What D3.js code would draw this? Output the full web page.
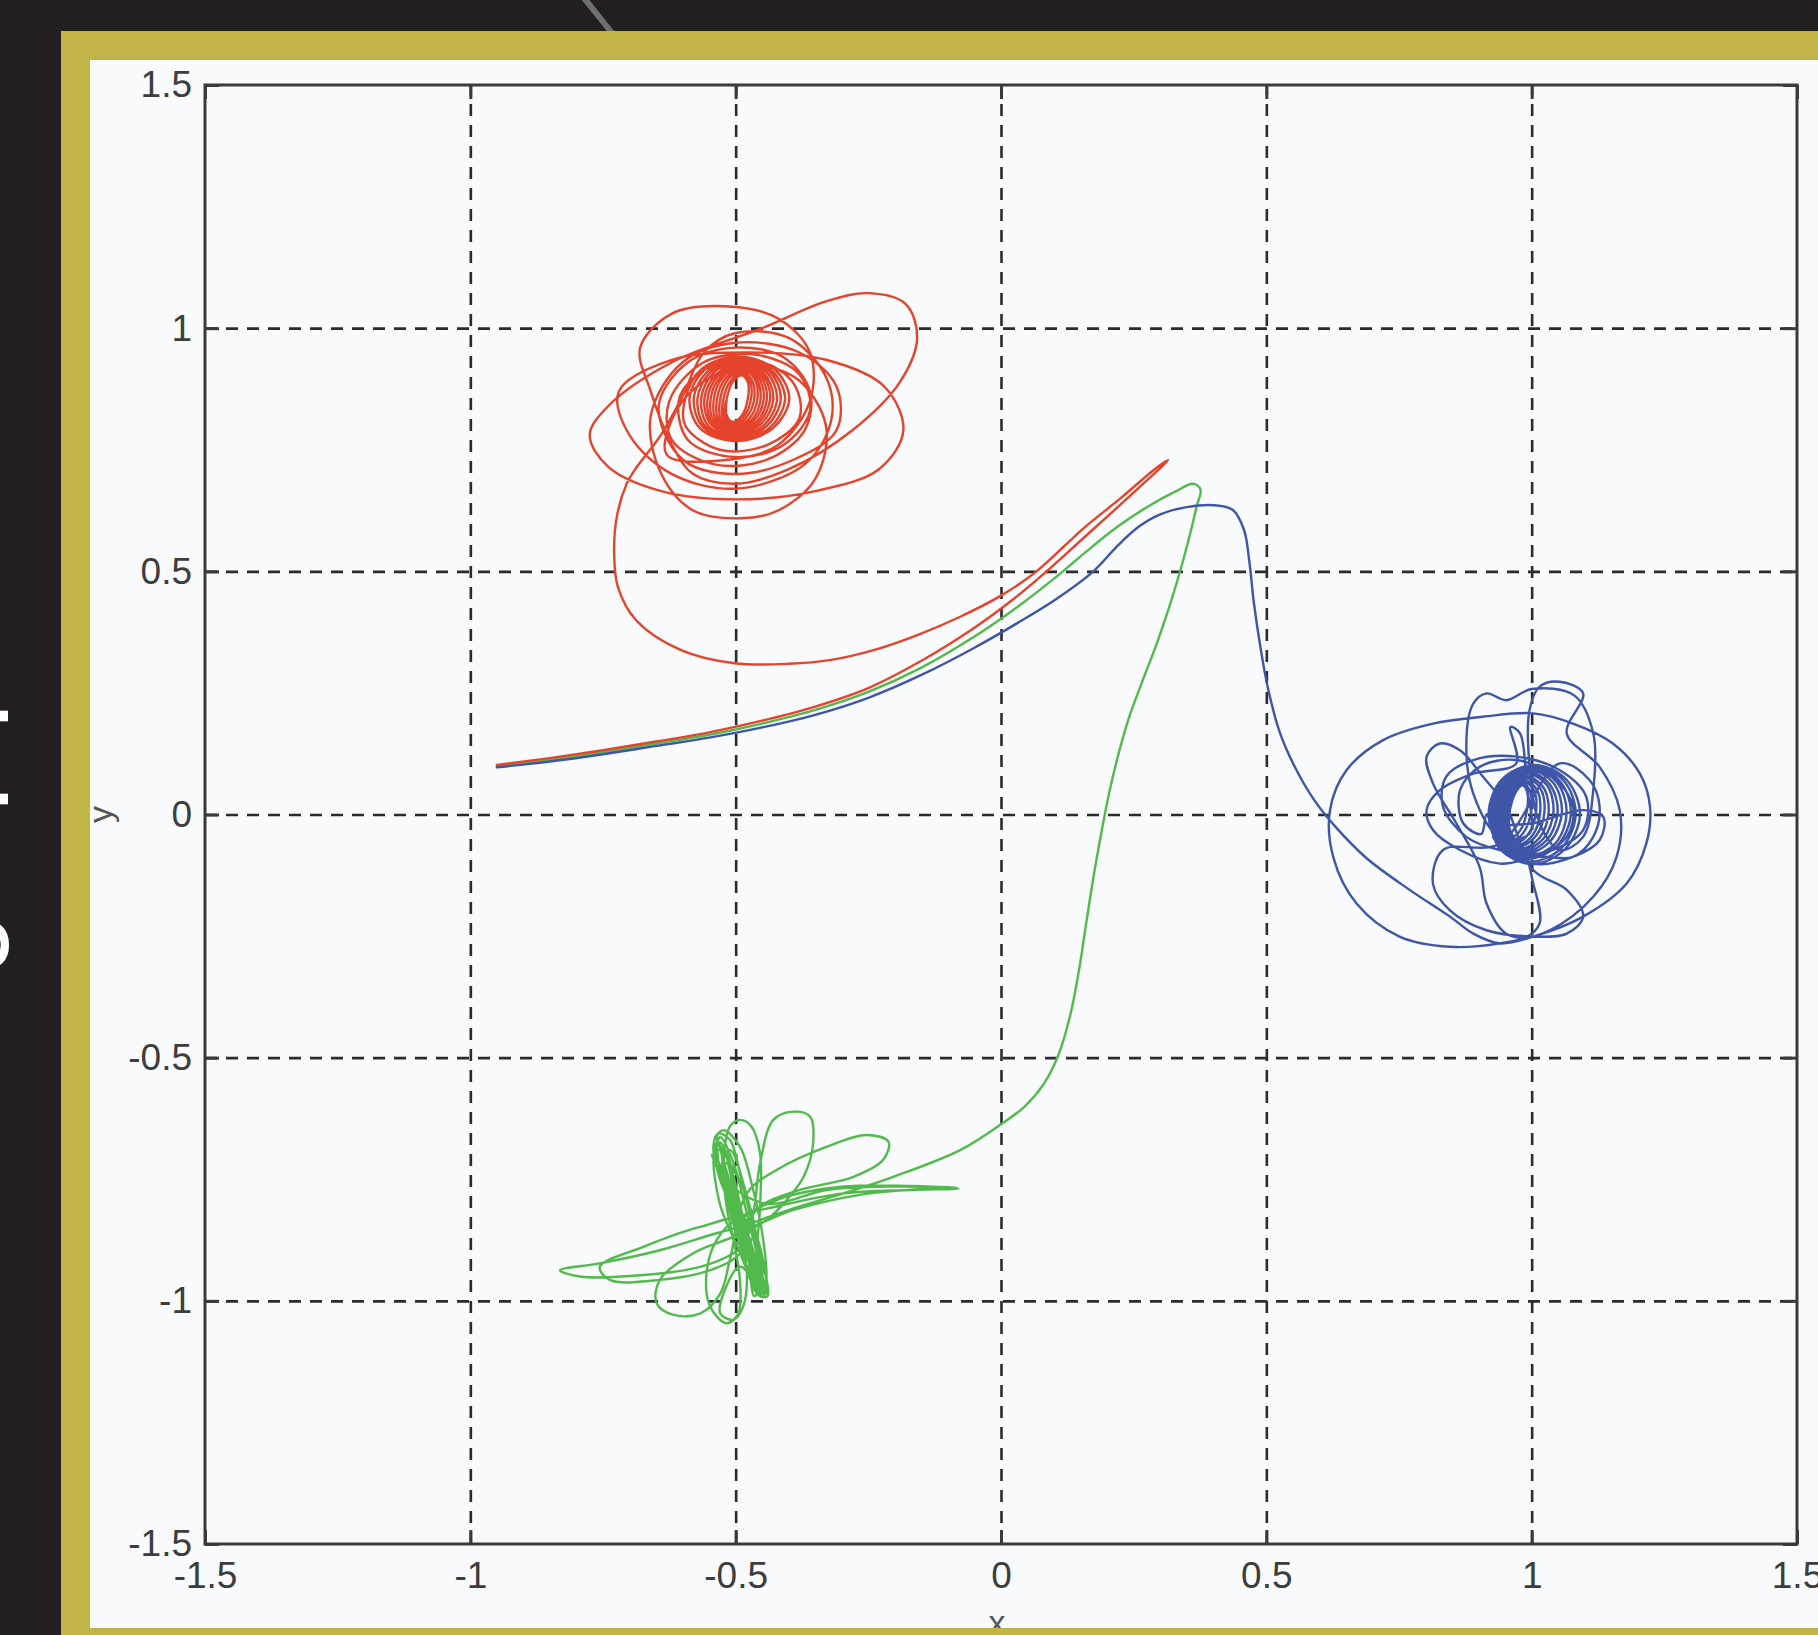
<!DOCTYPE html>
<html>
<head>
<meta charset="utf-8">
<script src="https://cdn.jsdelivr.net/npm/d3@7"></script>
<style>
html,body{margin:0;padding:0;background:#231f20;}
svg{display:block;}
</style>
</head>
<body>
<svg id="chart" width="1818" height="1635"></svg>
<script>
// ---------- data ----------
const xTicks = [-1.5, -1, -0.5, 0, 0.5, 1, 1.5];
const xTickLabels = ["-1.5", "-1", "-0.5", "0", "0.5", "1", "1.5"];
const yTicks = [-1.5, -1, -0.5, 0, 0.5, 1, 1.5];
const yTickLabels = ["-1.5", "-1", "-0.5", "0", "0.5", "1", "1.5"];
const gridTicks = [-1, -0.5, 0, 0.5, 1];
const xLabel = "x";
const yLabel = "y";

// red body trajectory (x, y)
const redPath = [
[-0.950,0.102],[-0.850,0.116],[-0.750,0.132],[-0.650,0.150],[-0.550,0.169],[-0.450,0.193],[-0.350,0.222],[-0.250,0.260],[-0.150,0.316],[-0.050,0.384],[0.020,0.440],[0.086,0.500],[0.155,0.568],[0.240,0.652],[0.315,0.729],
[0.292,0.712],[0.225,0.650],[0.155,0.588],[0.067,0.500],[0.000,0.450],[-0.080,0.405],[-0.160,0.368],[-0.240,0.338],[-0.320,0.318],[-0.400,0.310],[-0.502,0.311],[-0.603,0.338],[-0.688,0.400],[-0.722,0.468],[-0.729,0.538],[-0.724,0.612],[-0.705,0.681],[-0.686,0.715],[-0.643,0.777],
[-0.600,0.860],[-0.560,0.950],[-0.500,0.990],[-0.400,0.980],[-0.330,0.900],[-0.320,0.810],[-0.370,0.720],[-0.500,0.670],[-0.620,0.700],[-0.700,0.780],
[-0.720,0.870],[-0.620,0.935],[-0.480,0.950],[-0.330,0.935],[-0.220,0.880],[-0.184,0.790],[-0.230,0.710],[-0.350,0.665],[-0.500,0.648],[-0.640,0.665],[-0.740,0.715],[-0.775,0.780],[-0.740,0.840],
[-0.620,0.930],[-0.450,1.000],[-0.330,1.055],[-0.250,1.072],[-0.180,1.050],[-0.158,0.980],[-0.190,0.890],[-0.280,0.790],[-0.400,0.710],[-0.500,0.680],[-0.580,0.700],[-0.620,0.760],
[-0.660,0.870],[-0.680,0.960],[-0.620,1.030],[-0.520,1.045],[-0.420,1.020],[-0.360,0.950],[-0.360,0.850],[-0.420,0.760],[-0.510,0.730],
[-0.630,0.740],[-0.600,0.850],[-0.500,0.920],[-0.390,0.900],[-0.330,0.800],[-0.350,0.690],[-0.420,0.625],[-0.490,0.609],[-0.580,0.625],[-0.640,0.700],
[-0.660,0.820],[-0.600,0.930],[-0.500,0.970],[-0.380,0.950],[-0.310,0.880],[-0.310,0.790],[-0.390,0.730],[-0.500,0.700],[-0.600,0.730],
[-0.645,0.840],[-0.590,0.930],[-0.500,0.960],[-0.410,0.940],[-0.360,0.870],[-0.370,0.790],[-0.440,0.730],[-0.540,0.720],[-0.620,0.770],
[-0.625,0.850],[-0.560,0.930],[-0.460,0.945],[-0.380,0.905],[-0.360,0.830],[-0.410,0.760],[-0.500,0.735],[-0.590,0.770],
[-0.605,0.860],[-0.540,0.925],[-0.450,0.930],[-0.390,0.885],[-0.380,0.815],[-0.440,0.760],[-0.530,0.750],[-0.595,0.800],
[-0.595,0.855],[-0.564,0.916],[-0.495,0.942],[-0.427,0.916],[-0.399,0.855],[-0.430,0.794],[-0.499,0.768],[-0.567,0.794],
[-0.587,0.855],[-0.559,0.914],[-0.495,0.939],[-0.433,0.914],[-0.407,0.855],[-0.435,0.796],[-0.499,0.771],[-0.561,0.796],
[-0.579,0.855],[-0.552,0.912],[-0.494,0.936],[-0.437,0.912],[-0.415,0.855],[-0.442,0.798],[-0.500,0.774],[-0.557,0.798],
[-0.572,0.855],[-0.547,0.910],[-0.493,0.933],[-0.442,0.910],[-0.422,0.855],[-0.447,0.800],[-0.501,0.777],[-0.552,0.800],
[-0.565,0.855],[-0.542,0.908],[-0.493,0.930],[-0.447,0.908],[-0.429,0.855],[-0.452,0.803],[-0.501,0.780],[-0.547,0.803],
[-0.559,0.855],[-0.537,0.905],[-0.492,0.927],[-0.450,0.905],[-0.435,0.855],[-0.457,0.805],[-0.502,0.783],[-0.544,0.805],
[-0.553,0.855],[-0.533,0.903],[-0.492,0.924],[-0.454,0.903],[-0.441,0.855],[-0.461,0.807],[-0.502,0.786],[-0.540,0.807],
[-0.547,0.855],[-0.528,0.901],[-0.491,0.921],[-0.458,0.901],[-0.447,0.855],[-0.466,0.809],[-0.503,0.789],[-0.536,0.809],
[-0.541,0.855],[-0.524,0.899],[-0.491,0.918],[-0.462,0.899],[-0.453,0.855],[-0.470,0.811],[-0.503,0.792],[-0.532,0.811],
[-0.535,0.855],[-0.519,0.897],[-0.490,0.915],[-0.465,0.897],[-0.459,0.855],[-0.475,0.813],[-0.504,0.795],[-0.528,0.813],
[-0.529,0.855],[-0.515,0.894],[-0.490,0.911],[-0.470,0.894],[-0.465,0.855],[-0.480,0.816],[-0.504,0.799],[-0.524,0.816],
[-0.523,0.855],[-0.510,0.891],[-0.489,0.907],[-0.473,0.891],[-0.471,0.855],[-0.484,0.819],[-0.505,0.803],[-0.521,0.819],
[-0.517,0.855],[-0.506,0.889],[-0.489,0.903],[-0.477,0.889],[-0.477,0.855],[-0.488,0.821],[-0.505,0.807],[-0.517,0.821],[-0.517,0.852]
];

// green body trajectory (x, y)
const greenPath = [
[-0.950,0.099],[-0.850,0.112],[-0.750,0.128],[-0.650,0.146],[-0.550,0.164],[-0.450,0.187],[-0.350,0.215],[-0.250,0.252],[-0.150,0.302],[-0.050,0.366],[0.020,0.418],[0.100,0.485],[0.160,0.540],[0.220,0.592],[0.281,0.636],[0.330,0.665],[0.362,0.680],[0.376,0.668],
[0.369,0.635],[0.357,0.580],[0.340,0.510],[0.318,0.430],[0.293,0.350],[0.265,0.270],[0.240,0.195],[0.218,0.110],[0.201,0.030],[0.187,-0.050],[0.174,-0.130],[0.161,-0.220],[0.147,-0.320],[0.130,-0.415],[0.108,-0.495],[0.080,-0.555],[0.045,-0.600],[0.000,-0.637],[-0.077,-0.690],[-0.203,-0.745],[-0.297,-0.779],[-0.391,-0.810],[-0.454,-0.834],[-0.492,-0.848],
[-0.536,-0.861],[-0.643,-0.896],[-0.756,-0.923],[-0.831,-0.937],[-0.793,-0.950],[-0.674,-0.947],[-0.567,-0.930],[-0.504,-0.902],[-0.467,-0.868],
[-0.479,-0.786],[-0.517,-0.704],[-0.536,-0.663],[-0.523,-0.649],[-0.492,-0.683],[-0.467,-0.772],[-0.448,-0.875],[-0.442,-0.957],[-0.448,-0.992],[-0.460,-0.985],[-0.479,-0.930],
[-0.492,-0.841],[-0.423,-0.793],[-0.297,-0.765],[-0.171,-0.764],[-0.080,-0.769],[-0.171,-0.772],[-0.297,-0.779],[-0.423,-0.806],[-0.492,-0.827],
[-0.536,-0.875],[-0.555,-0.944],[-0.548,-1.012],[-0.517,-1.046],[-0.495,-1.026],[-0.492,-0.957],[-0.504,-0.875],[-0.517,-0.806],
[-0.523,-0.724],[-0.511,-0.642],[-0.492,-0.628],[-0.470,-0.642],[-0.454,-0.697],[-0.454,-0.806],[-0.460,-0.902],[-0.454,-0.971],[-0.442,-0.985],
[-0.479,-0.834],[-0.567,-0.848],[-0.674,-0.889],[-0.756,-0.930],[-0.737,-0.957],[-0.643,-0.957],[-0.548,-0.937],[-0.492,-0.902],
[-0.467,-0.820],[-0.454,-0.717],[-0.429,-0.628],[-0.391,-0.611],[-0.360,-0.621],[-0.354,-0.676],[-0.372,-0.745],[-0.404,-0.793],[-0.442,-0.834],
[-0.504,-0.868],[-0.580,-0.902],[-0.643,-0.957],[-0.649,-1.005],[-0.617,-1.029],[-0.567,-1.026],[-0.529,-0.985],[-0.511,-0.916],
[-0.479,-0.779],[-0.423,-0.731],[-0.328,-0.683],[-0.253,-0.659],[-0.212,-0.673],[-0.222,-0.710],[-0.278,-0.745],[-0.379,-0.772],[-0.454,-0.806],
[-0.479,-0.848],[-0.391,-0.813],[-0.266,-0.782],[-0.140,-0.769],[-0.084,-0.767],[-0.203,-0.765],[-0.328,-0.772],[-0.442,-0.800],
[-0.517,-0.752],[-0.536,-0.683],[-0.529,-0.663],[-0.504,-0.717],[-0.479,-0.820],[-0.454,-0.930],[-0.445,-0.978],[-0.460,-0.964],
[-0.492,-0.930],[-0.523,-0.985],[-0.529,-1.026],[-0.504,-1.039],[-0.486,-1.012],[-0.479,-0.944],
[-0.498,-0.834],[-0.529,-0.752],[-0.542,-0.683],[-0.533,-0.656],[-0.511,-0.669],[-0.489,-0.752],[-0.467,-0.854],[-0.451,-0.957],[-0.448,-0.985],
[-0.460,-0.957],[-0.486,-0.854],[-0.511,-0.772],[-0.523,-0.724],[-0.517,-0.717],[-0.498,-0.786],[-0.473,-0.875],[-0.454,-0.957],[-0.467,-0.964],[-0.492,-0.875],[-0.517,-0.779],[-0.529,-0.738],
[-0.535,-0.670],[-0.505,-0.780],[-0.470,-0.900],[-0.450,-0.985],[-0.460,-0.975],[-0.485,-0.880],[-0.515,-0.770],[-0.540,-0.680],[-0.528,-0.675],[-0.500,-0.790],[-0.475,-0.890],[-0.455,-0.975],[-0.465,-0.990],[-0.478,-0.900],[-0.505,-0.800],[-0.525,-0.700],[-0.520,-0.690],[-0.492,-0.800],[-0.470,-0.920],[-0.452,-0.990],[-0.440,-0.990],[-0.462,-0.880],[-0.490,-0.820],[-0.545,-0.700],[-0.530,-0.720],[-0.482,-0.860],[-0.458,-0.950],
[-0.452,-0.985],[-0.470,-0.930],[-0.505,-0.830],[-0.520,-0.760],[-0.530,-0.690],[-0.540,-0.700],[-0.530,-0.800],[-0.500,-0.880],[-0.460,-0.970],[-0.450,-0.950],[-0.462,-0.860],[-0.480,-0.780],[-0.510,-0.690],[-0.525,-0.715],[-0.512,-0.810],[-0.488,-0.900],[-0.462,-0.980]
];

// blue body trajectory (x, y)
const bluePath = [
[-0.950,0.097],[-0.850,0.109],[-0.750,0.124],[-0.650,0.141],[-0.550,0.158],[-0.450,0.179],[-0.350,0.205],[-0.250,0.240],[-0.150,0.287],[-0.050,0.343],[0.030,0.393],[0.100,0.440],[0.174,0.500],[0.220,0.553],[0.260,0.592],[0.300,0.617],[0.350,0.632],[0.400,0.636],[0.437,0.626],[0.458,0.585],[0.468,0.520],[0.476,0.440],[0.488,0.350],[0.503,0.260],[0.525,0.170],[0.555,0.095],[0.590,0.030],[0.630,-0.025],[0.689,-0.090],
[0.770,-0.155],[0.846,-0.210],[0.890,-0.245],[0.940,-0.265],[1.003,-0.251],[1.097,-0.210],[1.179,-0.142],[1.216,-0.060],[1.223,0.016],[1.204,0.084],[1.153,0.146],[1.078,0.187],[1.003,0.208],[0.908,0.201],[0.814,0.187],[0.720,0.153],[0.651,0.091],[0.620,0.009],[0.626,-0.087],[0.670,-0.183],[0.751,-0.251],[0.846,-0.272],[0.940,-0.265],[1.034,-0.238],[1.116,-0.169],[1.160,-0.087],[1.166,0.009],[1.128,0.098],[1.066,0.167],
[1.097,0.249],[1.053,0.273],[1.015,0.263],[0.996,0.215],[0.996,0.100],[1.015,-0.018],[1.053,-0.073],[1.097,-0.046],[1.116,0.050],[1.116,0.167],[1.080,0.245],
[1.000,0.258],[0.952,0.235],[0.915,0.249],[0.890,0.228],[0.877,0.153],[0.890,0.043],[0.940,-0.046],[0.996,-0.039],[0.990,0.064],[0.978,0.167],[0.960,0.180],
[0.971,0.105],[0.890,0.084],[0.827,0.050],[0.802,0.009],[0.814,-0.032],[0.865,-0.073],[0.940,-0.101],[1.015,-0.087],[1.078,-0.087],[1.116,-0.046],[1.128,0.016],[1.109,0.071],[1.053,0.105],
[0.940,-0.060],[0.833,-0.073],[0.814,-0.142],[0.846,-0.197],[0.915,-0.238],[1.003,-0.251],[1.066,-0.245],[1.097,-0.210],[1.066,-0.155],[1.003,-0.114],
[0.952,0.016],[0.908,0.078],[0.865,0.132],[0.827,0.146],[0.802,0.119],[0.814,0.064],[0.858,-0.018],[0.902,-0.108],
[0.915,-0.183],[0.952,-0.245],[0.990,-0.251],[1.015,-0.224],[1.003,-0.142],[0.978,-0.060],
[0.927,-0.046],[1.003,-0.101],[1.078,-0.087],[1.128,-0.053],[1.135,-0.005],[1.097,0.009],[1.003,-0.018],[0.927,-0.030],
[0.971,-0.087],[1.040,-0.073],[1.097,-0.032],[1.103,0.036],[1.053,0.091],[0.971,0.119],[0.890,0.112],[0.839,0.078],[0.833,0.016],[0.877,-0.046],[0.940,-0.073],
[1.015,-0.080],[1.066,-0.046],[1.078,0.016],[1.040,0.078],[0.971,0.112],[0.902,0.098],[0.865,0.050],[0.871,-0.018],[0.905,-0.040],
[0.915,0.000],[0.940,-0.071],[1.001,-0.102],[1.063,-0.071],[1.091,0.000],[1.066,0.071],[1.005,0.102],[0.943,0.071],
[0.919,0.001],[0.942,-0.068],[0.999,-0.097],[1.057,-0.068],[1.083,0.001],[1.060,0.070],[1.003,0.099],[0.945,0.070],
[0.922,0.003],[0.943,-0.063],[0.995,-0.091],[1.049,-0.063],[1.074,0.003],[1.053,0.069],[1.001,0.097],[0.947,0.069],
[0.926,0.004],[0.945,-0.059],[0.993,-0.086],[1.045,-0.059],[1.066,0.004],[1.047,0.067],[0.999,0.094],[0.949,0.067],
[0.929,0.005],[0.945,-0.055],[0.989,-0.081],[1.035,-0.055],[1.057,0.005],[1.041,0.065],[0.997,0.091],[0.951,0.065],
[0.933,0.006],[0.948,-0.052],[0.987,-0.077],[1.029,-0.052],[1.049,0.006],[1.034,0.062],[0.995,0.087],[0.953,0.062],
[0.937,0.005],[0.949,-0.050],[0.984,-0.073],[1.022,-0.050],[1.041,0.005],[1.029,0.060],[0.994,0.083],[0.956,0.060],
[0.940,0.004],[0.950,-0.048],[0.981,-0.070],[1.015,-0.048],[1.032,0.004],[1.022,0.056],[0.991,0.078],[0.957,0.056],
[0.944,0.005],[0.952,-0.044],[0.978,-0.065],[1.008,-0.044],[1.024,0.005],[1.016,0.054],[0.990,0.075],[0.960,0.054],
[0.948,0.004],[0.954,-0.042],[0.976,-0.062],[1.002,-0.042],[1.016,0.004],[1.010,0.050],[0.988,0.070],[0.962,0.050],
[0.952,0.005],[0.955,-0.038],[0.973,-0.057],[0.995,-0.038],[1.008,0.005],[1.005,0.048],[0.987,0.067],[0.965,0.048],
[0.955,0.007],[0.957,-0.033],[0.970,-0.050],[0.987,-0.033],[0.999,0.007],[0.997,0.047],[0.984,0.064],[0.967,0.047],
[0.959,0.008],[0.958,-0.028],[0.967,-0.044],[0.981,-0.028],[0.991,0.008],[0.992,0.044],[0.983,0.060],[0.969,0.044],[0.959,0.010]
];

const seriesNames = ["red", "green", "blue"];
const seriesColors = ["#e5432b", "#52b94c", "#3f55a8"];

// fragments of the cut-off caption in the dark left band
const sideFragments = ["I", "I", "O"];

// ---------- layout ----------
const W = 1818, H = 1635;
const plot = {left: 205, right: 1797, top: 85, bottom: 1544};

const svg = d3.select("#chart");

// background frame
svg.append("rect").attr("x",0).attr("y",0).attr("width",W).attr("height",H).attr("fill","#231f20");
svg.append("line").attr("x1",584).attr("y1",-2).attr("x2",612).attr("y2",33)
  .attr("stroke","#6e6f72").attr("stroke-width",6);
const sideY = [716, 799, 945];
sideFragments.forEach((s,i) => {
  svg.append("text").attr("transform",`translate(-42,${sideY[i]}) rotate(90)`)
    .attr("text-anchor","middle").attr("font-family","'Liberation Sans', Arial, sans-serif")
    .attr("font-weight","bold").attr("font-size",72).attr("fill","#ffffff").text(s);
});
svg.append("rect").attr("x",61).attr("y",31).attr("width",W-61).attr("height",H-31).attr("fill","#c2b548");
svg.append("rect").attr("x",90).attr("y",60).attr("width",W-90).attr("height",1568).attr("fill","#f8fafb");

const x = d3.scaleLinear().domain([-1.5,1.5]).range([plot.left, plot.right]);
const y = d3.scaleLinear().domain([-1.5,1.5]).range([plot.bottom, plot.top]);
const pw = plot.right - plot.left, ph = plot.bottom - plot.top;

// grid
const gridX = svg.append("g").attr("transform",`translate(0,${plot.bottom})`)
  .call(d3.axisBottom(x).tickValues(gridTicks).tickSize(-ph).tickFormat(""));
gridX.select(".domain").remove();
gridX.selectAll("line").attr("stroke","#2b2b2b").attr("stroke-width",2.6).attr("stroke-dasharray","12,9");
const gridY = svg.append("g").attr("transform",`translate(${plot.left},0)`)
  .call(d3.axisLeft(y).tickValues(gridTicks).tickSize(-pw).tickFormat(""));
gridY.select(".domain").remove();
gridY.selectAll("line").attr("stroke","#2b2b2b").attr("stroke-width",2.6).attr("stroke-dasharray","12,9");

// trajectories
const line = d3.line().x(d => x(d[0])).y(d => y(d[1])).curve(d3.curveCatmullRom.alpha(0.5));
const paths = [redPath, greenPath, bluePath];
[1,0,2].forEach(i => {
  svg.append("path").datum(paths[i]).attr("d", line)
    .attr("fill","none").attr("stroke", seriesColors[i]).attr("stroke-width",2.4)
    .attr("stroke-linejoin","round").attr("stroke-linecap","round");
});

// axes box with inward ticks
const axStyle = g => {
  g.select(".domain").remove();
  g.selectAll(".tick line").attr("stroke","#3a3a3a").attr("stroke-width",3);
  g.selectAll("text").attr("fill","#3d3d3d").attr("font-family","'Liberation Sans', Arial, sans-serif").attr("font-size",37);
};
svg.append("g").attr("transform",`translate(0,${plot.bottom})`)
  .call(d3.axisBottom(x).tickValues(xTicks).tickFormat((d,i)=>xTickLabels[i]).tickSizeInner(-14).tickSizeOuter(0).tickPadding(18))
  .call(axStyle);
svg.append("g").attr("transform",`translate(0,${plot.top})`)
  .call(d3.axisTop(x).tickValues(xTicks).tickFormat("").tickSizeInner(-14).tickSizeOuter(0))
  .call(axStyle);
svg.append("g").attr("transform",`translate(${plot.left},0)`)
  .call(d3.axisLeft(y).tickValues(yTicks).tickFormat((d,i)=>yTickLabels[i]).tickSizeInner(-14).tickSizeOuter(0).tickPadding(13))
  .call(axStyle);
svg.append("g").attr("transform",`translate(${plot.right},0)`)
  .call(d3.axisRight(y).tickValues(yTicks).tickFormat("").tickSizeInner(-14).tickSizeOuter(0))
  .call(axStyle);
svg.append("rect").attr("x",plot.left).attr("y",plot.top).attr("width",pw).attr("height",ph)
  .attr("fill","none").attr("stroke","#3a3a3a").attr("stroke-width",3);

// axis labels
svg.append("text").attr("x", x(0) - 4).attr("y", 1634).attr("text-anchor","middle")
  .attr("font-family","'Liberation Sans', Arial, sans-serif").attr("font-size",34).attr("fill","#555")
  .text(xLabel);
svg.append("text").attr("transform",`translate(112,${y(0)}) rotate(-90)`).attr("text-anchor","middle")
  .attr("font-family","'Liberation Sans', Arial, sans-serif").attr("font-size",34).attr("fill","#555")
  .text(yLabel);

// olive bottom strip on top (clips the x label like the original)
svg.append("rect").attr("x",61).attr("y",1628).attr("width",W-61).attr("height",7).attr("fill","#c2b548");
</script>
</body>
</html>
